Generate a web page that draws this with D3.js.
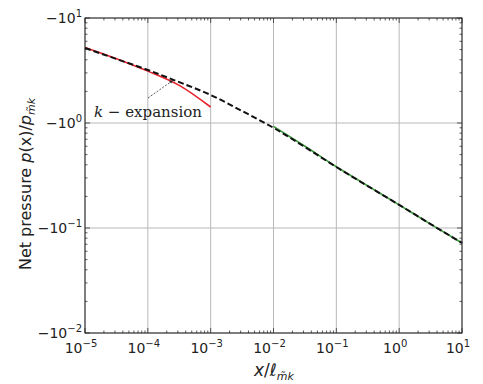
<!DOCTYPE html>
<html>
<head>
<meta charset="utf-8">
<script src="https://cdn.jsdelivr.net/npm/d3@7"></script>
<style>
  body { margin: 0; background: #fff; }
  text { font-family: "DejaVu Sans", sans-serif; fill: #222; }
  .grid line { stroke: #b8b8b8; stroke-width: 1; }
</style>
</head>
<body>
<div id="chart"></div>
<script>
// log10 of x positions (x / l_mk)
var xExp = [-5, -4.5, -4, -3.5, -3, -2.5, -2, -1.5, -1, -0.5, 0, 0.5, 1];
// |p| for the full solution (black dashed)
var fullP = [5.18, 4.07, 3.2, 2.45, 1.85, 1.3, 0.9, 0.59, 0.381, 0.251, 0.166, 0.109, 0.072];
// k-expansion (red), x from 1e-5 to 1e-3
var redExp = [-5, -4.5, -4, -3.5, -3];
var redP = [5.25, 4.1, 3.12, 2.28, 1.42];
// far-field asymptote (green), x from 1e-2 to 1e1
var greenExp = [-2, -1.5, -1, -0.5, 0, 0.5, 1];
var greenP = [0.93, 0.6, 0.383, 0.252, 0.166, 0.109, 0.072];

var xTickExp = [-5, -4, -3, -2, -1, 0, 1];
var yTickExp = [1, 0, -1, -2];

function init() {
    var w = 483, h = 384;
    var left = 85, right = 462, top = 18, bottom = 333;

    var xScale = d3.scaleLog().domain([1e-5, 10]).range([left, right]);
    var yScale = d3.scaleLog().domain([0.01, 10]).range([bottom, top]);

    var svg = d3.select("#chart").append("svg")
        .attr("width", w).attr("height", h);

    // grid
    var grid = svg.append("g").attr("class", "grid");
    grid.selectAll(".gx").data(xTickExp).enter().append("line")
        .attr("x1", function(d) { return xScale(Math.pow(10, d)); })
        .attr("x2", function(d) { return xScale(Math.pow(10, d)); })
        .attr("y1", top).attr("y2", bottom);
    grid.selectAll(".gy").data(yTickExp).enter().append("line")
        .attr("y1", function(d) { return yScale(Math.pow(10, d)); })
        .attr("y2", function(d) { return yScale(Math.pow(10, d)); })
        .attr("x1", left).attr("x2", right);

    // curves
    var line = d3.line()
        .x(function(d) { return xScale(Math.pow(10, d[0])); })
        .y(function(d) { return yScale(d[1]); })
        .curve(d3.curveMonotoneX);

    svg.append("path").datum(d3.zip(greenExp, greenP))
        .attr("d", line).attr("fill", "none")
        .attr("stroke", "#3a9a3a").attr("stroke-width", 1.6);
    svg.append("path").datum(d3.zip(redExp, redP))
        .attr("d", line).attr("fill", "none")
        .attr("stroke", "#e8202a").attr("stroke-width", 1.6);
    svg.append("path").datum(d3.zip(xExp, fullP))
        .attr("d", line).attr("fill", "none")
        .attr("stroke", "#111").attr("stroke-width", 2)
        .attr("stroke-dasharray", "6,3");

    // ticks (inside, all four sides)
    var xt = xScale.ticks(), yt = yScale.ticks();
    var ticks = svg.append("g").attr("stroke", "#333").attr("stroke-width", 0.8);
    xt.forEach(function(v) {
        var major = Math.abs(Math.log10(v) - Math.round(Math.log10(v))) < 1e-6;
        var len = major ? 5 : 2.5, x = xScale(v);
        ticks.append("line").attr("x1", x).attr("x2", x).attr("y1", bottom).attr("y2", bottom - len);
        ticks.append("line").attr("x1", x).attr("x2", x).attr("y1", top).attr("y2", top + len);
    });
    yt.forEach(function(v) {
        var major = Math.abs(Math.log10(v) - Math.round(Math.log10(v))) < 1e-6;
        var len = major ? 5 : 2.5, y = yScale(v);
        ticks.append("line").attr("y1", y).attr("y2", y).attr("x1", left).attr("x2", left + len);
        ticks.append("line").attr("y1", y).attr("y2", y).attr("x1", right).attr("x2", right - len);
    });

    // frame
    svg.append("rect").attr("x", left).attr("y", top)
        .attr("width", right - left).attr("height", bottom - top)
        .attr("fill", "none").attr("stroke", "#222").attr("stroke-width", 1);

    // x tick labels
    xTickExp.forEach(function(e) {
        var t = svg.append("text").attr("x", xScale(Math.pow(10, e)) - 4).attr("y", bottom + 20)
            .attr("text-anchor", "middle").style("font-size", "14px");
        t.append("tspan").text("10");
        t.append("tspan").attr("dy", -6).style("font-size", "10px").text(e < 0 ? "\u2212" + (-e) : e);
    });
    // y tick labels
    yTickExp.forEach(function(e) {
        var t = svg.append("text").attr("x", 82).attr("y", yScale(Math.pow(10, e)) + 5)
            .attr("text-anchor", "end").style("font-size", "14px");
        t.append("tspan").text("\u221210");
        t.append("tspan").attr("dy", -6).style("font-size", "10px").text(e < 0 ? "\u2212" + (-e) : e);
    });

    // x label
    var xl = svg.append("text").attr("x", 274).attr("y", 376)
        .attr("text-anchor", "middle").style("font-size", "17px");
    xl.append("tspan").style("font-style", "italic").text("x");
    xl.append("tspan").text("/");
    xl.append("tspan").style("font-style", "italic").text("\u2113");
    xl.append("tspan").attr("dy", 4).style("font-size", "11px").style("font-style", "italic").text("m\u0303k");

    // y label
    var yl = svg.append("text").attr("transform", "translate(31,184) rotate(-90)")
        .attr("text-anchor", "middle").style("font-size", "16px");
    yl.append("tspan").text("Net pressure ");
    yl.append("tspan").style("font-style", "italic").text("p");
    yl.append("tspan").text("(x)/");
    yl.append("tspan").style("font-style", "italic").text("p");
    yl.append("tspan").attr("dy", 4).style("font-size", "11px").style("font-style", "italic").text("m\u0303k");

    // annotation
    svg.append("defs").append("marker").attr("id", "ah")
        .attr("viewBox", "0 0 10 10").attr("refX", 9).attr("refY", 5)
        .attr("markerWidth", 5).attr("markerHeight", 5).attr("orient", "auto")
        .append("path").attr("d", "M0,1 L10,5 L0,9 z").attr("fill", "#333");
    svg.append("line")
        .attr("x1", 148).attr("y1", 98)
        .attr("x2", xScale(Math.pow(10, -3.6))).attr("y2", yScale(2.55))
        .attr("stroke", "#333").attr("stroke-width", 0.8)
        .attr("stroke-dasharray", "2,1.5").attr("marker-end", "url(#ah)");
    var an = svg.append("text").attr("x", 94).attr("y", 117)
        .style("font-family", "'DejaVu Serif', serif").style("font-size", "15px");
    an.append("tspan").style("font-style", "italic").text("k");
    an.append("tspan").text(" \u2212 expansion");
}
window.onload = init;
</script>
</body>
</html>
